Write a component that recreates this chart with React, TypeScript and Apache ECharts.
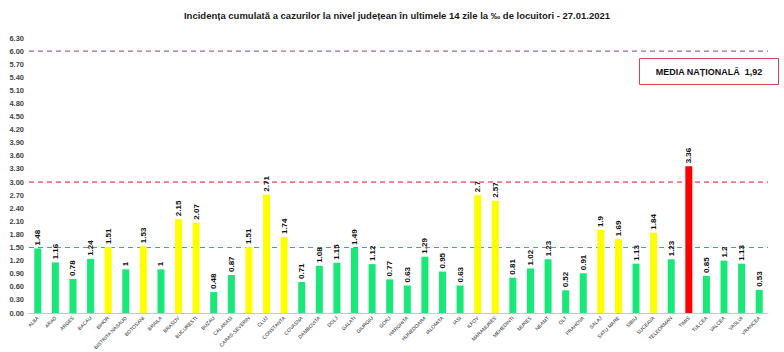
import React, { useEffect, useRef } from "react";
import * as echarts from "echarts";

const counties = [
  "ALBA", "ARAD", "ARGES", "BACAU", "BIHOR", "BISTRITA NASAUD", "BOTOSANI", "BRAILA", "BRASOV", "BUCURESTI",
  "BUZAU", "CALARASI", "CARAS-SEVERIN", "CLUJ", "CONSTANTA", "COVASNA", "DAMBOVITA", "DOLJ", "GALATI", "GIURGIU",
  "GORJ", "HARGHITA", "HUNEDOARA", "IALOMITA", "IASI", "ILFOV", "MARAMURES", "MEHEDINTI", "MURES", "NEAMT",
  "OLT", "PRAHOVA", "SALAJ", "SATU MARE", "SIBIU", "SUCEAVA", "TELEORMAN", "TIMIS", "TULCEA", "VALCEA",
  "VASLUI", "VRANCEA",
];

const incidence = [
  1.48, 1.16, 0.78, 1.24, 1.51, 1, 1.53, 1, 2.15, 2.07,
  0.48, 0.87, 1.51, 2.71, 1.74, 0.71, 1.08, 1.15, 1.49, 1.12,
  0.77, 0.63, 1.29, 0.95, 0.63, 2.7, 2.57, 0.81, 1.02, 1.23,
  0.52, 0.91, 1.9, 1.69, 1.13, 1.84, 1.23, 3.36, 0.85, 1.2,
  1.13, 0.53,
];

const thresholds = [1.5, 3, 6];
const thresholdColors = ["#2AA3C8", "#E0102A", "#7E3A96"];
const title = "Incidența cumulată a cazurilor la nivel județean în ultimele 14 zile la ‰ de locuitori - 27.01.2021";
const nationalLabel = "MEDIA NAȚIONALĂ  1,92";

function barColor(v: number): string {
  if (v > 3) return "#FF0000";
  if (v >= 1.5) return "#FFFF00";
  return "#18E878";
}

export default function App() {
  const ref = useRef<HTMLDivElement>(null);
  useEffect(() => {
    if (!ref.current) return;
    const chart = echarts.init(ref.current, null, { renderer: "svg" });
    const lineSeries = thresholds.map((t, i) => ({
      type: "line",
      name: "prag" + i,
      xAxisIndex: 1,
      data: incidence.map(() => t),
      symbol: "none",
      showSymbol: false,
      silent: true,
      color: thresholdColors[i],
      lineStyle: { color: thresholdColors[i], type: [5, 4], width: 1 },
      itemStyle: { color: thresholdColors[i] },
      z: 1,
    }));
    chart.setOption({
      animation: false,
      backgroundColor: "#ffffff",
      title: {
        text: title,
        left: 392,
        textAlign: "center",
        top: 5,
        textStyle: { fontFamily: "Liberation Sans", fontSize: 9.5, fontWeight: "bold", color: "#1a1a1a" },
      },
      graphic: [
        {
          type: "rect",
          shape: { x: 639.5, y: 58.5, width: 139, height: 26 },
          style: { fill: "#ffffff", stroke: "#E04050", lineWidth: 1 },
        },
        {
          type: "text",
          x: 709,
          y: 71.5,
          style: {
            text: nationalLabel,
            fontFamily: "Liberation Sans",
            fontSize: 9,
            fontWeight: "bold",
            fill: "#111111",
            align: "center",
            verticalAlign: "middle",
          },
        },
      ],
      grid: { left: 29, right: 16, top: 38, bottom: 39, containLabel: false, outerBoundsMode: "none" },
      xAxis: [
        {
          type: "category",
          data: counties,
          axisLine: { lineStyle: { color: "#C8C8C8" } },
          axisTick: { length: 3, lineStyle: { color: "#C8C8C8" } },
          axisLabel: {
            interval: 0,
            rotate: 45,
            fontSize: 5,
            fontFamily: "Liberation Sans",
            color: "#222222",
            margin: 4,
            hideOverlap: false,
          },
        },
        {
          type: "category",
          data: counties,
          boundaryGap: false,
          show: false,
        },
      ],
      yAxis: {
        type: "value",
        min: 0,
        max: 6.3,
        interval: 0.3,
        axisLine: { show: false },
        axisTick: { show: false },
        splitLine: { show: false },
        axisLabel: {
          formatter: (v: number) => v.toFixed(2),
          fontSize: 7.5,
          fontWeight: "bold",
          fontFamily: "Liberation Sans",
          color: "#444444",
          margin: 5,
        },
      },
      series: [
        ...lineSeries,
        {
          type: "bar",
          barWidth: 7,
          z: 2,
          data: incidence.map((v) => ({ value: v, itemStyle: { color: barColor(v) } })),
          label: {
            show: true,
            position: "top",
            rotate: 90,
            align: "left",
            verticalAlign: "middle",
            distance: 3,
            fontSize: 8,
            fontWeight: "bold",
            fontFamily: "Liberation Sans",
            color: "#111111",
            formatter: (p: any) => String(p.value),
          },
        },
      ],
    });
    return () => chart.dispose();
  }, []);
  return (
    <div
      ref={ref}
      style={{ position: "fixed", left: 0, top: 0, width: 784, height: 352 }}
    />
  );
}
